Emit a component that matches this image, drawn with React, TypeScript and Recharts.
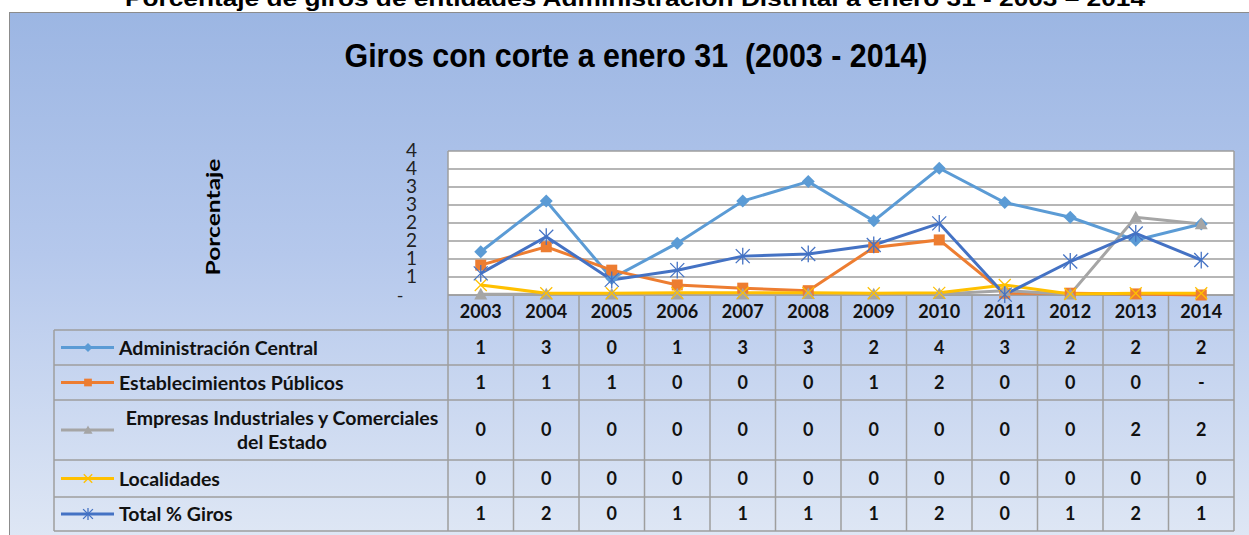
import React from "react";
import { LineChart, Line, XAxis, YAxis, CartesianGrid } from "recharts";

// data (percent of transfers, cut-off January 31)
const years = ["2003", "2004", "2005", "2006", "2007", "2008", "2009", "2010", "2011", "2012", "2013", "2014"];
const adminCentral = [1.2, 2.61, 0.46, 1.44, 2.61, 3.15, 2.06, 3.52, 2.57, 2.16, 1.52, 1.97];
const establecimientos = [0.83, 1.34, 0.69, 0.28, 0.19, 0.12, 1.32, 1.53, 0.05, 0.05, 0.03, 0];
const empresas = [0.02, 0.02, 0.02, 0.02, 0.02, 0.03, 0.02, 0.03, 0.12, 0.02, 2.16, 1.97];
const localidades = [0.28, 0.05, 0.05, 0.06, 0.06, 0.06, 0.05, 0.06, 0.28, 0.03, 0.05, 0.05];
const totalGiros = [0.6, 1.62, 0.42, 0.69, 1.08, 1.14, 1.39, 1.99, 0.01, 0.93, 1.71, 0.97];
const yTicks = [0, 0.5, 1, 1.5, 2, 2.5, 3, 3.5, 4];

const series = [
  { key: "admin", name: "Administración Central", values: adminCentral, color: "#5B9BD5", marker: "diamond" },
  { key: "estab", name: "Establecimientos Públicos", values: establecimientos, color: "#ED7D31", marker: "square" },
  { key: "empresas", name: "Empresas Industriales y Comerciales del Estado", values: empresas, color: "#A5A5A5", marker: "triangle" },
  { key: "localidades", name: "Localidades", values: localidades, color: "#FFC000", marker: "x" },
  { key: "total", name: "Total % Giros", values: totalGiros, color: "#4472C4", marker: "star" },
];

const chartData = years.map((year, i) => {
  const row: Record<string, any> = { year };
  series.forEach((s) => (row[s.key] = s.values[i]));
  return row;
});

const W = 1249;
const H = 535;
const PLOT_L = 448;
const PLOT_R = 1234;
const PLOT_T = 151;
const PLOT_B = 295;
const COL_W = (PLOT_R - PLOT_L) / years.length;
const TABLE_L = 54;
const rowEdges = [330, 365, 400, 460, 497, 531];
const GRID = "#9E9E9E";
const FONT = 'Lato, "Open Sans", sans-serif';

function fmtCell(v: number) {
  return v === 0 ? "-" : String(Math.round(v));
}

function Marker({ kind, cx, cy, color, s = 1 }: { kind: string; cx: number; cy: number; color: string; s?: number }) {
  if (cx == null || cy == null) return null;
  if (kind === "diamond") {
    const r = 6.5 * s;
    return <polygon points={`${cx},${cy - r} ${cx + r},${cy} ${cx},${cy + r} ${cx - r},${cy}`} fill={color} />;
  }
  if (kind === "square") {
    const r = 5.5 * s;
    return <rect x={cx - r} y={cy - r} width={2 * r} height={2 * r} fill={color} />;
  }
  if (kind === "triangle") {
    const r = 6.5 * s;
    return <polygon points={`${cx},${cy - r} ${cx + r},${cy + r * 0.8} ${cx - r},${cy + r * 0.8}`} fill={color} />;
  }
  if (kind === "x") {
    const r = 6 * s;
    return (
      <g stroke={color} strokeWidth={1.3}>
        <line x1={cx - r} y1={cy - r} x2={cx + r} y2={cy + r} />
        <line x1={cx - r} y1={cy + r} x2={cx + r} y2={cy - r} />
      </g>
    );
  }
  const r = 7 * s;
  return (
    <g stroke={color} strokeWidth={1.3}>
      <line x1={cx - r} y1={cy - r} x2={cx + r} y2={cy + r} />
      <line x1={cx - r} y1={cy + r} x2={cx + r} y2={cy - r} />
      <line x1={cx} y1={cy - r * 1.2} x2={cx} y2={cy + r * 1.2} />
    </g>
  );
}

function YTick({ x, y, payload }: any) {
  const v = payload.value;
  if (v === 0) {
    return (
      <text x={x - 48} y={y + 7} textAnchor="middle" fontSize={18} fontFamily={FONT} fill="#222">
        -
      </text>
    );
  }
  return (
    <text x={x - 31} y={y + 6} textAnchor="end" fontSize={19} fontFamily={FONT} fill="#222">
      {Math.round(v)}
    </text>
  );
}

function XTick({ x, y, payload }: any) {
  return (
    <text x={x} y={y + 23} textAnchor="middle" fontSize={18} fontWeight={700} fontFamily={FONT} fill="#111">
      {payload.value}
    </text>
  );
}

export default function App() {
  const colXs = years.map((_, i) => PLOT_L + i * COL_W);
  colXs.push(PLOT_R);

  return (
    <div style={{ position: "absolute", left: 0, top: 0, width: W, height: H, overflow: "hidden", background: "#fff" }}>
      {/* chart frame */}
      <div
        style={{
          position: "absolute",
          left: 9,
          top: 12,
          width: W,
          height: H,
          border: "1px solid #8c8c8c",
          background: "linear-gradient(180deg, #9cb6e3 0%, #b5c8ec 45%, #e0e8f5 100%)",
        }}
      />
      {/* plot area background */}
      <div style={{ position: "absolute", left: PLOT_L, top: PLOT_T, width: PLOT_R - PLOT_L, height: PLOT_B - PLOT_T, background: "#fff" }} />

      {/* titles and data table */}
      <svg width={W} height={H} style={{ position: "absolute", left: 0, top: 0 }}>
        <text x={635} y={6} textAnchor="middle" fontSize={22} fontWeight={700} fontFamily='"Liberation Sans", Arial' textLength={1020} lengthAdjust="spacingAndGlyphs">
          Porcentaje de giros de entidades Administración Distrital a enero 31 - 2003 – 2014
        </text>
        <text x={636} y={67} textAnchor="middle" fontSize={33} fontWeight={700} fontFamily='"Liberation Sans Narrow", "Liberation Sans", Arial' textLength={583} lengthAdjust="spacingAndGlyphs" style={{ whiteSpace: "pre" }}>
          Giros con corte a enero 31  (2003 - 2014)
        </text>
        <text transform="translate(214,217) rotate(-90)" y={6} textAnchor="middle" fontSize={19} fontWeight={700} fontFamily={FONT} textLength={117} lengthAdjust="spacingAndGlyphs">
          Porcentaje
        </text>

        <g stroke={GRID} strokeWidth={1.5}>
          <line x1={PLOT_L} y1={PLOT_B} x2={PLOT_R} y2={PLOT_B} />
          {rowEdges.map((y) => (
            <line key={y} x1={TABLE_L} y1={y} x2={PLOT_R} y2={y} />
          ))}
          <line x1={TABLE_L} y1={rowEdges[0]} x2={TABLE_L} y2={rowEdges[rowEdges.length - 1]} />
          {colXs.map((x, i) => (
            <line key={i} x1={x} y1={i === 0 || i === years.length ? PLOT_T : PLOT_B} x2={x} y2={rowEdges[rowEdges.length - 1]} />
          ))}
        </g>

        {series.map((s, r) => {
          const cy = (rowEdges[r] + rowEdges[r + 1]) / 2;
          return (
            <g key={s.key}>
              <line x1={61} y1={cy} x2={114} y2={cy} stroke={s.color} strokeWidth={3} />
              <Marker kind={s.marker} cx={88} cy={cy} color={s.color} s={0.7} />
              {s.values.map((v, i) => (
                <text key={i} x={PLOT_L + (i + 0.5) * COL_W} y={cy + 6} textAnchor="middle" fontSize={18} fontWeight={700} fontFamily={FONT} fill="#111">
                  {fmtCell(v)}
                </text>
              ))}
            </g>
          );
        })}
      </svg>

      {/* legend labels of the data table */}
      {series.map((s, r) => {
        const wraps = s.name.length > 30;
        return (
          <div
            key={s.key}
            style={{
              position: "absolute",
              left: 119,
              top: rowEdges[r],
              width: 326,
              height: rowEdges[r + 1] - rowEdges[r],
              display: "flex",
              alignItems: "center",
              justifyContent: wraps ? "center" : "flex-start",
              textAlign: wraps ? "center" : "left",
              fontFamily: FONT,
              fontWeight: 700,
              fontSize: 19.5,
              lineHeight: "24px",
              color: "#111",
            }}
          >
            {s.name}
          </div>
        );
      })}

      <div style={{ position: "absolute", left: 0, top: 0 }}>
        <LineChart width={W} height={H} data={chartData} margin={{ top: PLOT_T, right: W - PLOT_R, bottom: H - PLOT_B - 30, left: PLOT_L - 60 }}>
          <CartesianGrid vertical={false} stroke={GRID} strokeWidth={1.5} strokeOpacity={1} />
          <XAxis
            dataKey="year"
            height={30}
            interval={0}
            axisLine={false}
            tickLine={false}
            tickSize={0}
            tickMargin={0}
            padding={{ left: COL_W / 2, right: COL_W / 2 }}
            tick={<XTick />}
          />
          <YAxis
            width={60}
            domain={[0, 4]}
            ticks={yTicks}
            interval={0}
            axisLine={false}
            tickLine={false}
            tickSize={0}
            tickMargin={0}
            tick={<YTick />}
          />
          {series.map((s) => (
            <Line
              key={s.key}
              dataKey={s.key}
              name={s.name}
              type="linear"
              stroke={s.color}
              strokeWidth={3}
              isAnimationActive={false}
              activeDot={false}
              dot={(p: any) => <Marker key={`${s.key}-${p.index}`} kind={s.marker} cx={p.cx} cy={p.cy} color={s.color} />}
            />
          ))}
        </LineChart>
      </div>
    </div>
  );
}
